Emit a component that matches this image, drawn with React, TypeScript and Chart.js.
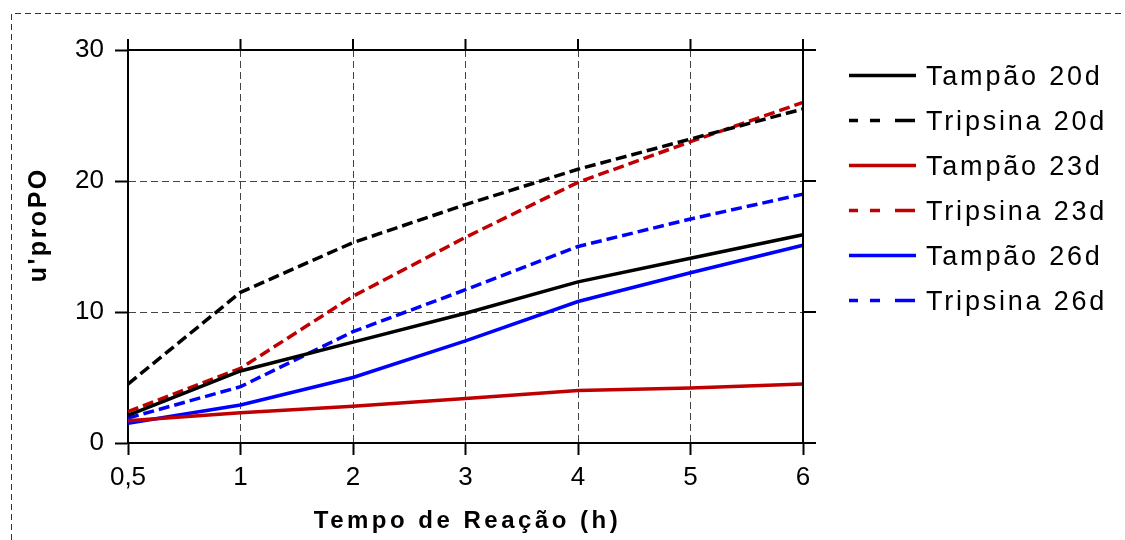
import { useEffect, useRef } from 'react';
import { Chart, registerables } from 'chart.js';

Chart.register(...registerables);

// Reaction time (h) categories
const categories = ['0,5', '1', '2', '3', '4', '5', '6'];

// u'proPO values per series
const tampao20 = [2.1, 5.5, 7.7, 9.9, 12.3, 14.1, 15.9];
const tripsina20 = [4.5, 11.5, 15.3, 18.2, 20.9, 23.2, 25.5];
const tampao23 = [1.7, 2.3, 2.8, 3.4, 4.0, 4.2, 4.5];
const tripsina23 = [2.4, 5.7, 11.2, 15.7, 19.9, 23.0, 26.0];
const tampao26 = [1.5, 2.9, 5.0, 7.8, 10.8, 13.0, 15.1];
const tripsina26 = [1.9, 4.3, 8.5, 11.7, 15.0, 17.1, 19.0];

const seriesLabels = ['Tampão 20d', 'Tripsina 20d', 'Tampão 23d', 'Tripsina 23d', 'Tampão 26d', 'Tripsina 26d'];
const seriesValues = [tampao20, tripsina20, tampao23, tripsina23, tampao26, tripsina26];
const seriesColors = ['#000000', '#000000', '#c00000', '#c00000', '#0000ff', '#0000ff'];
const seriesDashed = [false, true, false, true, false, true];

const yMin = 0;
const yMax = 30;
const yStep = 10;

const xTitle = 'Tempo de Reação (h)';
const yTitle = "u'proPO";

const FONT = "'Liberation Sans', Arial, Helvetica, sans-serif";
const LINE_DASH = [11, 5];
const LEGEND_DASH = [9, 12, 10, 15, 20];

const decorPlugin = {
  id: 'decor',
  beforeDraw(chart: any) {
    const ctx: CanvasRenderingContext2D = chart.ctx;
    ctx.save();
    ctx.fillStyle = '#ffffff';
    ctx.fillRect(0, 0, chart.width, chart.height);
    // dashed outer frame
    ctx.strokeStyle = '#333333';
    ctx.lineWidth = 1;
    ctx.setLineDash([6, 4]);
    ctx.beginPath();
    ctx.moveTo(11.5, chart.height);
    ctx.lineTo(11.5, 13.5);
    ctx.lineTo(chart.width, 13.5);
    ctx.stroke();
    ctx.restore();
  },
  afterDatasetsDraw(chart: any) {
    const ctx: CanvasRenderingContext2D = chart.ctx;
    const { left, right, top, bottom } = chart.chartArea;
    const xs = chart.scales.x;
    const ys = chart.scales.y;
    ctx.save();
    ctx.setLineDash([]);
    ctx.strokeStyle = '#000000';
    ctx.lineWidth = 2;
    ctx.beginPath();
    ctx.moveTo(left - 1, top);
    ctx.lineTo(right, top);
    ctx.moveTo(right, top);
    ctx.lineTo(right, bottom);
    // top axis ticks
    for (let i = 0; i < xs.ticks.length; i++) {
      const px = xs.getPixelForTick(i);
      ctx.moveTo(px, top);
      ctx.lineTo(px, top - 11);
    }
    // right axis ticks
    for (let i = 0; i < ys.ticks.length; i++) {
      const py = ys.getPixelForTick(i);
      ctx.moveTo(right, py);
      ctx.lineTo(right + 13, py);
    }
    ctx.stroke();
    ctx.restore();
  },
  afterDraw(chart: any) {
    const ctx: CanvasRenderingContext2D = chart.ctx as any;
    const c: any = ctx;
    const { left, right } = chart.chartArea;

    // x-axis title
    ctx.save();
    ctx.fillStyle = '#000000';
    ctx.font = `bold 24px ${FONT}`;
    c.letterSpacing = '3.5px';
    ctx.textAlign = 'left';
    ctx.textBaseline = 'alphabetic';
    const wx = ctx.measureText(xTitle).width;
    ctx.fillText(xTitle, (left + right) / 2 - wx / 2 + 2, 528);
    ctx.restore();

    // y-axis title
    ctx.save();
    ctx.fillStyle = '#000000';
    ctx.font = `bold 25px ${FONT}`;
    c.letterSpacing = '2.5px';
    ctx.textAlign = 'left';
    ctx.textBaseline = 'alphabetic';
    const wy = ctx.measureText(yTitle).width;
    ctx.translate(46, 226);
    ctx.rotate(-Math.PI / 2);
    ctx.fillText(yTitle, -wy / 2 + 1.2, 0);
    ctx.restore();

    // legend
    const datasets = chart.data.datasets;
    ctx.save();
    ctx.font = `27px ${FONT}`;
    c.letterSpacing = '2.8px';
    ctx.textAlign = 'left';
    ctx.textBaseline = 'alphabetic';
    for (let i = 0; i < datasets.length; i++) {
      const ds = datasets[i];
      const ly = 75.5 + i * 45;
      ctx.strokeStyle = ds.borderColor;
      ctx.lineWidth = 3.5;
      ctx.setLineDash(seriesDashed[i] ? LEGEND_DASH : []);
      ctx.beginPath();
      ctx.moveTo(849, ly);
      ctx.lineTo(916, ly);
      ctx.stroke();
      ctx.fillStyle = '#000000';
      ctx.fillText(ds.label, 926, ly + 9);
    }
    ctx.restore();
  },
};

export default function App() {
  const canvasRef = useRef<HTMLCanvasElement | null>(null);

  useEffect(() => {
    const canvas = canvasRef.current;
    if (!canvas) return;
    const chart = new Chart(canvas, {
      type: 'line',
      data: {
        labels: categories,
        datasets: seriesValues.map((vals, i) => ({
          label: seriesLabels[i],
          data: vals,
          borderColor: seriesColors[i],
          backgroundColor: seriesColors[i],
          borderDash: seriesDashed[i] ? LINE_DASH : [],
          borderWidth: 3.5,
          pointRadius: 0,
          tension: 0,
          fill: false,
        })),
      },
      options: {
        responsive: false,
        animation: false,
        devicePixelRatio: 1,
        layout: { padding: { top: 50, right: 322, left: 0, bottom: 0 } },
        plugins: {
          legend: { display: false },
          tooltip: { enabled: false },
        },
        scales: {
          x: {
            type: 'category',
            offset: false,
            grid: {
              color: '#444444',
              lineWidth: 1,
              tickLength: 12,
              tickColor: '#000000',
              tickWidth: 2,
            },
            border: { display: true, color: '#000000', width: 2, dash: [7, 4] },
            ticks: {
              font: { family: FONT, size: 26 },
              color: '#000000',
              padding: 7,
              maxRotation: 0,
              autoSkip: false,
            },
            afterFit: (s: any) => {
              s.height = 97;
            },
          },
          y: {
            min: yMin,
            max: yMax,
            grid: {
              color: '#444444',
              lineWidth: 1,
              tickLength: 13,
              tickColor: '#000000',
              tickWidth: 2,
            },
            border: { display: true, color: '#000000', width: 2, dash: [7, 4] },
            ticks: {
              stepSize: yStep,
              font: { family: FONT, size: 26 },
              color: '#000000',
              padding: 11,
            },
            afterFit: (s: any) => {
              s.width = 128;
            },
          },
        },
      } as any,
      plugins: [decorPlugin],
    });
    return () => chart.destroy();
  }, []);

  return (
    <div style={{ position: 'fixed', left: 0, top: 0, width: 1125, height: 540, background: '#fff' }}>
      <canvas ref={canvasRef} width={1125} height={540} style={{ display: 'block' }} />
    </div>
  );
}
